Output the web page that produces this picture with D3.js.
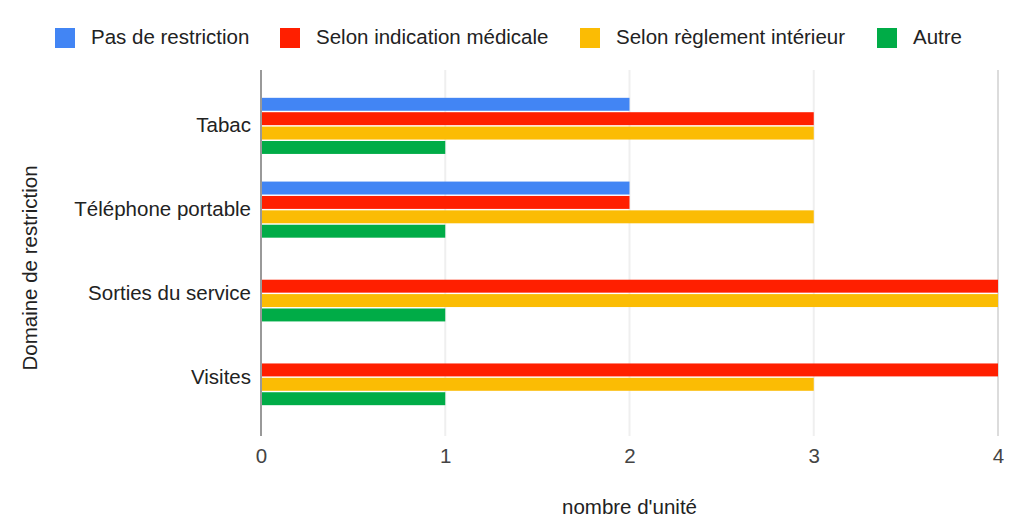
<!DOCTYPE html>
<html>
<head>
<meta charset="utf-8">
<script src="https://cdn.jsdelivr.net/npm/d3@7"></script>
<style>
  html, body { margin: 0; padding: 0; background: #fff; }
  svg { display: block; font-family: Arial, "Liberation Sans", sans-serif; }
</style>
</head>
<body>
<svg id="chart" width="1010" height="518"></svg>
<script>
const categories = ["Tabac", "Téléphone portable", "Sorties du service", "Visites"];
const seriesNames = ["Pas de restriction", "Selon indication médicale", "Selon règlement intérieur", "Autre"];
const seriesColors = ["#4285f4", "#ff1f00", "#fbbc04", "#00ac47"];
const pasDeRestriction = [2, 2, 0, 0];
const selonIndicationMedicale = [3, 2, 4, 4];
const selonReglementInterieur = [3, 3, 4, 3];
const autre = [1, 1, 1, 1];
const xTicks = [0, 1, 2, 3, 4];
const xTitle = "nombre d'unité";
const yTitle = "Domaine de restriction";

const seriesValues = [pasDeRestriction, selonIndicationMedicale, selonReglementInterieur, autre];
const FS = 20.5;
const FONT = "Arial, 'Liberation Sans', sans-serif";

const svg = d3.select("#chart");
const plotLeft = 261, plotRight = 998, plotTop = 70, plotBottom = 436;

const x = d3.scaleLinear().domain([0, 4]).range([plotLeft, plotRight]);
const y0 = d3.scaleBand().domain(categories).range([84, 419]).paddingInner(0.33).paddingOuter(0.165);
const y1 = d3.scaleBand().domain(d3.range(seriesNames.length)).range([0, y0.bandwidth()]).paddingInner(0.1);

// gridlines
svg.append("g").selectAll("line").data(xTicks.filter(t => t > 0)).join("line")
  .attr("x1", d => x(d)).attr("x2", d => x(d))
  .attr("y1", plotTop).attr("y2", plotBottom)
  .attr("stroke", d => d === 4 ? "#dcdcdc" : "#efefef").attr("stroke-width", 2);

// bars
const groups = svg.append("g").selectAll("g").data(categories).join("g")
  .attr("transform", d => `translate(0,${y0(d)})`);
groups.selectAll("rect")
  .data((c, ci) => seriesValues.map((vals, si) => ({ si, v: vals[ci] })))
  .join("rect")
  .filter(d => d.v > 0)
  .attr("x", x(0))
  .attr("y", d => y1(d.si))
  .attr("width", d => x(d.v) - x(0))
  .attr("height", y1.bandwidth())
  .attr("fill", d => seriesColors[d.si]);

// baseline axis
svg.append("line").attr("x1", x(0)).attr("x2", x(0))
  .attr("y1", plotTop).attr("y2", plotBottom)
  .attr("stroke", "#999").attr("stroke-width", 2);

// x axis tick labels
const xAxis = d3.axisBottom(x).tickValues(xTicks).tickSize(0).tickPadding(0).tickFormat(d3.format("d"));
const gx = svg.append("g").attr("transform", `translate(0,${plotBottom + 12})`).call(xAxis);
gx.select(".domain").remove();
gx.selectAll("text").attr("font-size", FS).attr("fill", "#444").attr("font-family", FONT);

// y axis labels
const yAxis = d3.axisLeft(y0).tickSize(0).tickPadding(10);
const gy = svg.append("g").attr("transform", `translate(${plotLeft},0)`).call(yAxis);
gy.select(".domain").remove();
gy.selectAll("text").attr("font-size", FS).attr("fill", "#222").attr("font-family", FONT);

// axis titles
svg.append("text").attr("x", (plotLeft + plotRight) / 2).attr("y", 514)
  .attr("text-anchor", "middle").attr("font-size", FS).attr("fill", "#222").text(xTitle);
svg.append("text").attr("transform", "translate(37,268) rotate(-90)")
  .attr("text-anchor", "middle").attr("font-size", FS).attr("fill", "#222").text(yTitle);

// legend
const legendX = [55, 280, 580, 877];
const lg = svg.append("g").selectAll("g").data(seriesNames).join("g")
  .attr("transform", (d, i) => `translate(${legendX[i]},28)`);
lg.append("rect").attr("width", 20).attr("height", 20).attr("fill", (d, i) => seriesColors[i]);
lg.append("text").attr("x", 36).attr("y", 16).attr("font-size", FS).attr("fill", "#222").text(d => d);
</script>
</body>
</html>
